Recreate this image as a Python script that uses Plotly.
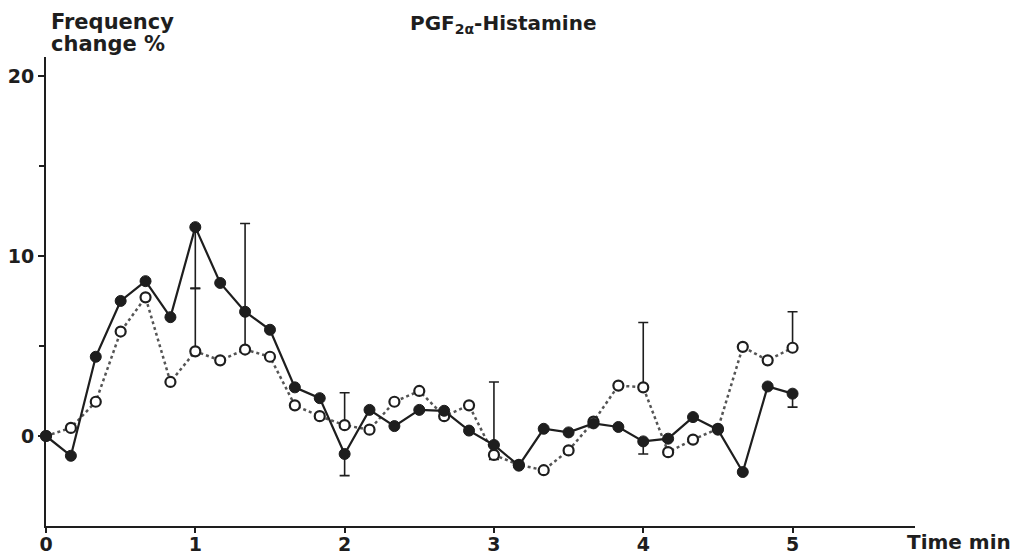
import plotly.graph_objects as go

# Time points (min), every 10 s
time_min = [i / 6 for i in range(31)]

# Filled circles (solid line)
filled = [0.0, -1.1, 4.4, 7.5, 8.6, 6.6, 11.6, 8.5, 6.9, 5.9, 2.7, 2.1, -1.0,
          1.45, 0.55, 1.45, 1.4, 0.3, -0.5, -1.65, 0.4, 0.2, 0.7, 0.5, -0.3,
          -0.15, 1.05, 0.35, -2.0, 2.75, 2.35]
# Open circles (dotted line)
opened = [0.0, 0.45, 1.9, 5.8, 7.7, 3.0, 4.7, 4.2, 4.8, 4.4, 1.7, 1.1, 0.6,
          0.35, 1.9, 2.5, 1.1, 1.7, -1.05, -1.6, -1.9, -0.8, 0.8, 2.8, 2.7,
          -0.9, -0.2, 0.4, 4.95, 4.2, 4.9]

# Error bars (None = no bar)
filled_err_plus = [None] * 31
filled_err_minus = [None] * 31
opened_err_plus = [None] * 31
opened_err_minus = [None] * 31
for idx, p, m in [(6, 0, 3.4), (12, 0, 1.2), (18, 3.5, 0), (24, 0, 0.7), (30, 0, 0.75)]:
    filled_err_plus[idx] = p
    filled_err_minus[idx] = m
for idx, p, m in [(6, 3.5, 0), (8, 7.0, 0), (12, 1.8, 0), (18, 0, 0.25), (24, 3.6, 0), (30, 2.0, 0)]:
    opened_err_plus[idx] = p
    opened_err_minus[idx] = m

y_tickvals = [0, 10, 20]
x_tickvals = [0, 1, 2, 3, 4, 5]

FONT = "DejaVu Sans, sans-serif"
INK = "#1e1e1e"

W, H = 1016, 559
L, R, T, B = 46, 101, 57, 33
PW, PH = W - L - R, H - T - B


def px(xpix):
    return (xpix - L) / PW


def py(ypix):
    return 1 - (ypix - T) / PH


fig = go.Figure()
fig.add_trace(go.Scatter(
    x=time_min, y=opened, mode="lines+markers",
    line=dict(color="#555555", width=2.5, dash="dot"),
    marker=dict(symbol="circle", size=10, color="white",
                line=dict(color=INK, width=2.2)),
    error_y=dict(type="data", symmetric=False, array=opened_err_plus,
                 arrayminus=opened_err_minus, color=INK, thickness=1.6, width=5),
    cliponaxis=False, showlegend=False, hoverinfo="skip",
))
fig.add_trace(go.Scatter(
    x=time_min, y=filled, mode="lines+markers",
    line=dict(color=INK, width=2.2),
    marker=dict(symbol="circle", size=11, color=INK,
                line=dict(color=INK, width=1)),
    error_y=dict(type="data", symmetric=False, array=filled_err_plus,
                 arrayminus=filled_err_minus, color=INK, thickness=1.6, width=5),
    cliponaxis=False, showlegend=False, hoverinfo="skip",
))

tickfont = dict(family=FONT, size=19, color=INK, weight="bold")

fig.update_layout(
    width=W, height=H,
    margin=dict(l=L, r=R, t=T, b=B),
    paper_bgcolor="white", plot_bgcolor="white",
    font=dict(family=FONT, size=18, color=INK),
    xaxis=dict(range=[0, 5.82], tickvals=x_tickvals, ticks="outside", ticklen=5,
               tickwidth=1.5, tickcolor=INK, showline=True, linecolor=INK,
               linewidth=1.8, showgrid=False, zeroline=False, automargin=False,
               tickfont=tickfont, ticklabelstandoff=-5),
    yaxis=dict(range=[-5, 21.05], tickvals=y_tickvals, ticks="outside", ticklen=6,
               tickwidth=1.5, tickcolor=INK, showline=True, linecolor=INK,
               linewidth=1.8, showgrid=False, zeroline=False, automargin=False,
               tickfont=tickfont,
               minor=dict(tickvals=[5, 15], ticks="outside", ticklen=5,
                          tickwidth=1.5, tickcolor=INK, showgrid=False)),
    annotations=[
        dict(text="<b>Frequency</b>", xref="paper", yref="paper",
             x=px(49), y=py(22), xanchor="left", yanchor="middle", showarrow=False,
             font=dict(family=FONT, size=21, color=INK)),
        dict(text="<b>change %</b>", xref="paper", yref="paper",
             x=px(49), y=py(44), xanchor="left", yanchor="middle", showarrow=False,
             font=dict(family=FONT, size=21, color=INK)),
        dict(text="<b>PGF<sub>2α</sub>-Histamine</b>", xref="paper", yref="paper",
             x=px(598), y=py(24), xanchor="right", yanchor="middle", showarrow=False,
             font=dict(family=FONT, size=20, color=INK)),
        dict(text="<b>Time min</b>", xref="paper", yref="paper",
             x=px(1013), y=py(542), xanchor="right", yanchor="middle", showarrow=False,
             font=dict(family=FONT, size=20, color=INK)),
    ],
)

fig.write_html(
    "out.html",
    config={"displayModeBar": False},
    post_script="document.body.style.margin='0';document.body.style.overflow='hidden';",
)
